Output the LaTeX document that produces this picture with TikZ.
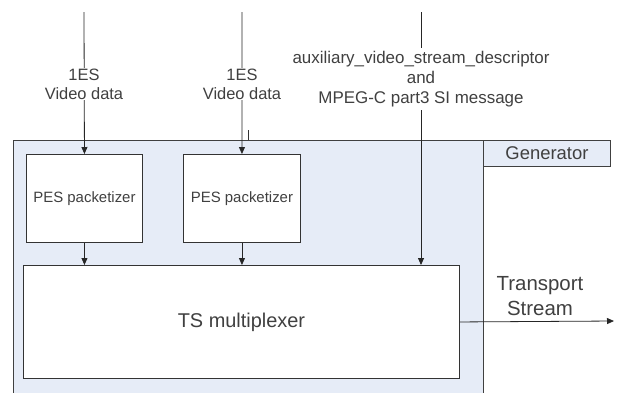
\documentclass[tikz,border=0pt]{standalone}
\usepackage{fontspec}
\setmainfont{Liberation Sans}
\usetikzlibrary{arrows.meta}
\definecolor{genfill}{HTML}{E6ECF7}
\begin{document}
\begin{tikzpicture}[x=1bp,y=-1bp,
  box/.style={draw=black!80,line width=0.9bp,fill=white},
  lbl/.style={fill=white,inner sep=1bp,align=center,text=black!75},
  arr/.style={draw=black!85,line width=0.8bp,-{Triangle[length=7bp,width=6bp]}}]
\useasboundingbox (0,0) rectangle (621,392);
\fill[white] (0,0) rectangle (621,392);
% generator
\draw[line width=0.9bp,draw=black!75,fill=genfill] (13,140) rectangle (483,400);
\node[draw=black!75,line width=0.9bp,fill=genfill,minimum width=127bp,minimum height=26bp,anchor=north west,inner sep=0pt,font=\fontsize{18.5}{20}\selectfont,text=black!75] (gen) at (483,140) {Generator};
% boxes
\node[box,minimum width=116bp,minimum height=88bp,anchor=north west,inner sep=0pt,font=\fontsize{15}{17}\selectfont,text=black!75] (pes1) at (26,154) {PES packetizer};
\node[box,minimum width=117bp,minimum height=88bp,anchor=north west,inner sep=0pt,font=\fontsize{15}{17}\selectfont,text=black!75] (pes2) at (183,154) {PES packetizer};
\node[box,minimum width=436bp,minimum height=113bp,anchor=north west,inner sep=0pt,font=\fontsize{20}{22}\selectfont,text=black!75] (ts) at (23,265) {TS multiplexer};
% input coordinates
\coordinate (in1) at (84,12);
\coordinate (in2) at (242,12);
\coordinate (in3) at (421,12);
\coordinate (t3) at (421,265);
\coordinate (out) at (614,321);
\draw[arr] (in1) -- (pes1.north);
\draw[arr] (in2) -- (pes2.north);
\draw[arr] (in3) -- (t3);
\node[lbl,font=\fontsize{16.5}{19}\selectfont] (l1) at (84,84) {1ES\\Video data};
\node[lbl,font=\fontsize{16.5}{19}\selectfont] (l2) at (242,84) {1ES\\Video data};
\node[lbl,font=\fontsize{17}{20}\selectfont,inner ysep=3bp] (l3) at (421,79) {auxiliary\_video\_stream\_descriptor\\and\\MPEG-C part3 SI message};
% tick
\coordinate (tk1) at (248,130);
\coordinate (tk2) at (248,140);
\draw[line width=0.7bp,black!80] (tk1) -- (tk2);
% pes to ts
\draw[arr] (pes1.south) -- (pes1.south |- ts.north);
\draw[arr] (pes2.south) -- (pes2.south |- ts.north);
% output
\draw[arr] (ts.east) -- (out);
\node[font=\fontsize{20.5}{25}\selectfont,align=center,text=black!75] (tsl) at (540,296) {Transport\\Stream};
\end{tikzpicture}
\end{document}
